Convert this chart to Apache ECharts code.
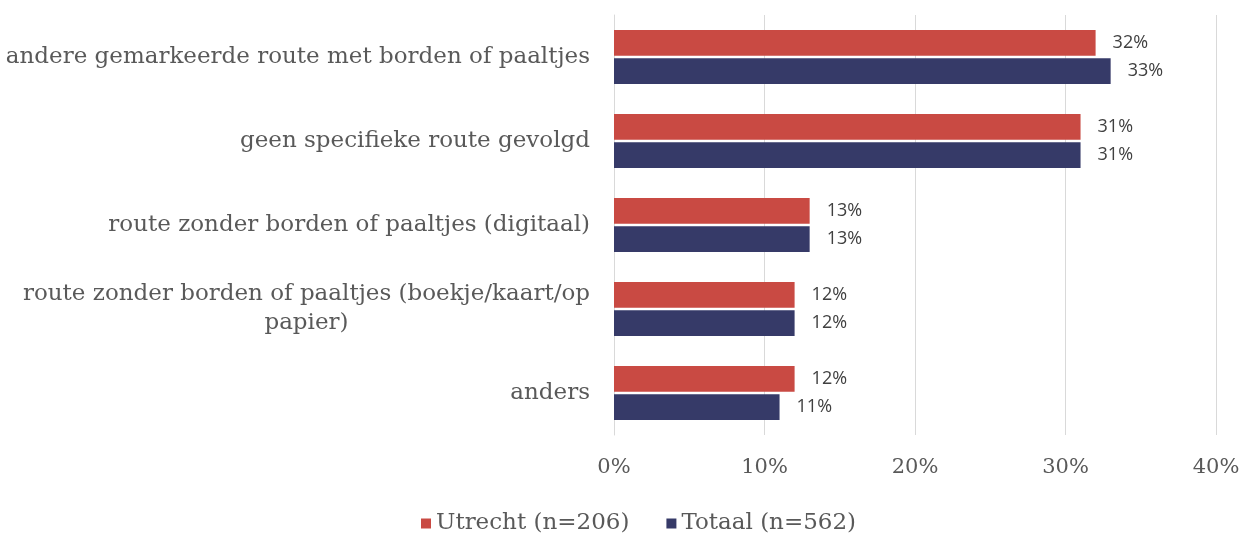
<!DOCTYPE html>
<html>
<head>
<meta charset="utf-8">
<script src="https://cdn.jsdelivr.net/npm/echarts@6/dist/echarts.min.js"></script>
<style>
  html, body { margin: 0; padding: 0; background: #fff; }
  #chart { width: 1246px; height: 533px; }
</style>
</head>
<body>
<div id="chart"></div>
<script>
const categories = [
    'andere gemarkeerde route met borden of paaltjes',
    'geen specifieke route gevolgd',
    'route zonder borden of paaltjes (digitaal)',
    'route zonder borden of paaltjes (boekje/kaart/op\npapier)',
    'anders'
];
const utrecht = [32, 31, 13, 12, 12];
const totaal = [33, 31, 13, 12, 11];
const seriesNames = ['Utrecht (n=206)', 'Totaal (n=562)'];

const serif = 'DejaVu Serif';
const chart = echarts.init(document.getElementById('chart'));

const valueLabel = {
    show: true,
    position: 'right',
    distance: 17,
    formatter: '{c}%',
    color: '#404040',
    fontSize: 18,
    fontFamily: 'Open Sans'
};

let option = {
    animation: false,
    grid: {
        left: 614,
        right: 30,
        top: 15,
        bottom: 98
    },
    legend: {
        top: 507,
        left: 416,
        itemWidth: 10,
        itemHeight: 10,
        itemGap: 37,
        icon: 'rect',
        textStyle: {
            fontFamily: serif,
            fontSize: 23,
            color: '#595959'
        },
        data: seriesNames
    },
    xAxis: {
        type: 'value',
        min: 0,
        max: 40,
        interval: 10,
        axisLabel: {
            formatter: '{value}%',
            fontFamily: serif,
            fontSize: 21,
            color: '#595959',
            margin: 22
        },
        axisLine: { show: false },
        axisTick: { show: false },
        splitLine: { lineStyle: { color: '#D9D9D9', width: 1 } }
    },
    yAxis: {
        type: 'category',
        inverse: true,
        data: categories,
        axisLine: { show: true, lineStyle: { color: '#D9D9D9' } },
        axisTick: { show: false },
        axisLabel: {
            margin: 24,
            fontFamily: serif,
            fontSize: 23,
            color: '#595959',
            formatter: function (v) {
                return v.split('\n').map(function (s) { return '{c|' + s + '}'; }).join('\n');
            },
            rich: {
                c: {
                    align: 'center',
                    fontFamily: serif,
                    fontSize: 23,
                    color: '#595959',
                    lineHeight: 29
                }
            }
        }
    },
    series: [
        {
            name: seriesNames[0],
            type: 'bar',
            data: utrecht,
            barGap: '10%',
            barCategoryGap: '36%',
            itemStyle: { color: '#C94A43' },
            label: valueLabel
        },
        {
            name: seriesNames[1],
            type: 'bar',
            data: totaal,
            itemStyle: { color: '#363A68' },
            label: valueLabel
        }
    ]
};

chart.setOption(option);
</script>
</body>
</html>
